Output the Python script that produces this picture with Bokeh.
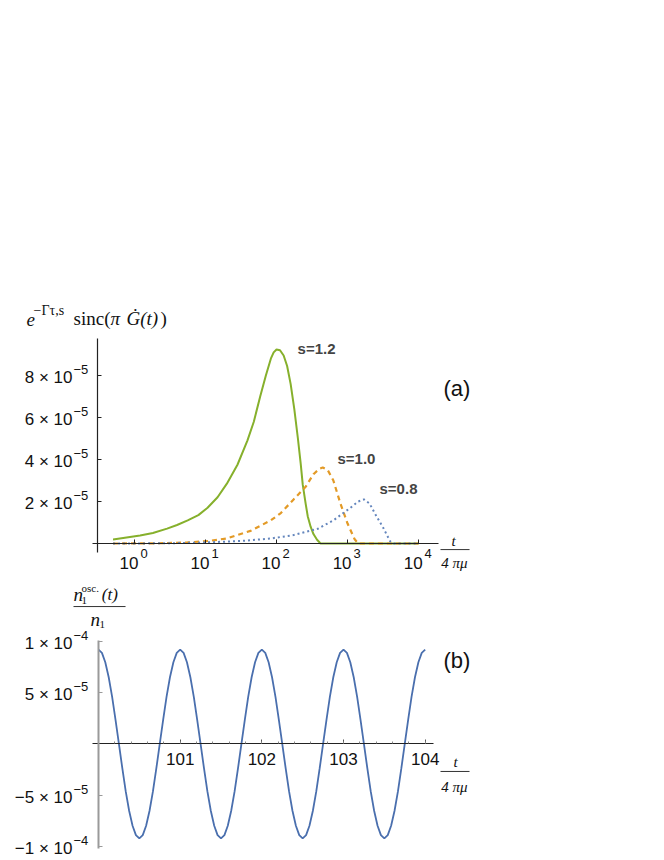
from bokeh.plotting import figure
from bokeh.layouts import column
from bokeh.models import Range1d, FixedTicker, Label, Arrow, LinearAxis, LogAxis, SingleIntervalTicker
from bokeh.core.properties import value
from bokeh.embed import file_html
from bokeh.resources import INLINE

# ---------------- data: panel (a) ----------------
t_s12 = [0.50, 1.20, 1.82, 2.88, 3.98, 5.62, 7.94, 10.7, 14.8, 20.0, 28.2, 38.9, 47.9, 58.9, 70.8,
         83.2, 91.2, 100, 112, 126, 141, 158, 178, 200, 219, 234, 257, 275, 302, 331, 372, 417, 10000]
y_s12 = [0.19, 0.38, 0.5, 0.71, 0.88, 1.1, 1.35, 1.7, 2.2, 2.85, 3.75, 4.9, 5.8, 7.0, 8.0,
         8.8, 9.1, 9.24, 9.2, 8.95, 8.45, 7.6, 6.4, 5.0, 3.8, 2.8, 1.9, 1.3, 0.8, 0.45, 0.18, 0.0, 0.0]

t_s10 = [0.5, 2.0, 5.6, 11, 20, 43, 83, 115, 174, 257, 331, 398, 447, 525, 631, 794, 1000, 1259, 1413, 10000]
y_s10 = [0.0, 0.01, 0.05, 0.12, 0.24, 0.6, 1.1, 1.45, 2.1, 2.7, 3.3, 3.55, 3.62, 3.5, 3.0, 1.9, 0.95, 0.2, 0.0, 0.0]

t_s08 = [0.5, 3.2, 10, 32, 83, 174, 380, 631, 1096, 1413, 1700, 2042, 2455, 3162, 3981, 4467, 10000]
y_s08 = [0.0, 0.01, 0.05, 0.12, 0.24, 0.4, 0.7, 1.1, 1.7, 2.0, 2.1, 1.9, 1.4, 0.76, 0.1, 0.0, 0.0]

scale_a = 1e-5
xticks_a = [1, 10, 100, 1000, 10000]
xbase_a = ["10", "10", "10", "10", "10"]
xexp_a = ["0", "1", "2", "3", "4"]
yticks_a = [2e-5, 4e-5, 6e-5, 8e-5]
ybase_a = ["2 × 10", "4 × 10", "6 × 10", "8 × 10"]
yexp_a = ["−5", "−5", "−5", "−5"]

# ---------------- data: panel (b) ----------------
t_b = [100.0, 100.042, 100.083, 100.125, 100.167, 100.208, 100.25, 100.292, 100.333, 100.375, 100.417, 100.458,
       100.5, 100.542, 100.583, 100.625, 100.667, 100.708, 100.75, 100.792, 100.833, 100.875, 100.917, 100.958,
       101.0, 101.042, 101.083, 101.125, 101.167, 101.208, 101.25, 101.292, 101.333, 101.375, 101.417, 101.458,
       101.5, 101.542, 101.583, 101.625, 101.667, 101.708, 101.75, 101.792, 101.833, 101.875, 101.917, 101.958,
       102.0, 102.042, 102.083, 102.125, 102.167, 102.208, 102.25, 102.292, 102.333, 102.375, 102.417, 102.458,
       102.5, 102.542, 102.583, 102.625, 102.667, 102.708, 102.75, 102.792, 102.833, 102.875, 102.917, 102.958,
       103.0, 103.042, 103.083, 103.125, 103.167, 103.208, 103.25, 103.292, 103.333, 103.375, 103.417, 103.458,
       103.5, 103.542, 103.583, 103.625, 103.667, 103.708, 103.75, 103.792, 103.833, 103.875, 103.917, 103.958,
       104.0]
n_b = [0.92, 0.889, 0.797, 0.651, 0.46, 0.238, 0.0, -0.238, -0.46, -0.651, -0.797, -0.889,
       -0.92, -0.889, -0.797, -0.651, -0.46, -0.238, 0.0, 0.238, 0.46, 0.651, 0.797, 0.889,
       0.92, 0.889, 0.797, 0.651, 0.46, 0.238, 0.0, -0.238, -0.46, -0.651, -0.797, -0.889,
       -0.92, -0.889, -0.797, -0.651, -0.46, -0.238, 0.0, 0.238, 0.46, 0.651, 0.797, 0.889,
       0.92, 0.889, 0.797, 0.651, 0.46, 0.238, 0.0, -0.238, -0.46, -0.651, -0.797, -0.889,
       -0.92, -0.889, -0.797, -0.651, -0.46, -0.238, 0.0, 0.238, 0.46, 0.651, 0.797, 0.889,
       0.92, 0.889, 0.797, 0.651, 0.46, 0.238, 0.0, -0.238, -0.46, -0.651, -0.797, -0.889,
       -0.92, -0.889, -0.797, -0.651, -0.46, -0.238, 0.0, 0.238, 0.46, 0.651, 0.797, 0.889,
       0.92]
scale_b = 1e-4
xticks_b = [101, 102, 103, 104]
yticks_b = [-1e-4, -5e-5, 5e-5, 1e-4]
ybase_b = ["−1 × 10", "−5 × 10", "5 × 10", "1 × 10"]
yexp_b = ["−4", "−5", "−5", "−4"]

SANS = "Liberation Sans"
SERIF = "Liberation Serif"
W = 560

# ================= panel (a) =================
X0_A = 10 ** -0.52  # left end of the x range (y axis position)
pa = figure(width=W, height=575, x_axis_type="log",
            x_axis_location=None, y_axis_location=None,
            x_range=Range1d(10 ** -1.8854, 10 ** 5.9975), y_range=Range1d(-1.5238e-5, 25.857e-5),
            output_backend="svg", toolbar_location=None,
            min_border_left=0, min_border_right=0, min_border_top=0, min_border_bottom=0)
pa.outline_line_color = None
pa.grid.visible = False

pa.line(t_s12, [v * scale_a for v in y_s12], line_color="#86b02c", line_width=2)
pa.line(t_s10, [v * scale_a for v in y_s10], line_color="#e39a26", line_width=2.2, line_dash="5 4")
pa.line(t_s08, [v * scale_a for v in y_s08], line_color="#6486bd", line_width=2, line_dash="2 3")

xa = LogAxis(fixed_location=0, bounds=(10 ** -0.59, 10 ** 4.28), ticker=FixedTicker(ticks=xticks_a),
             major_label_overrides={t: "" for t in xticks_a})
ya = LinearAxis(fixed_location=X0_A, bounds=(-0.45e-5, 9.76e-5), ticker=FixedTicker(ticks=yticks_a),
                major_label_overrides={t: "" for t in yticks_a})
for ax in (xa, ya):
    ax.axis_line_color = "#222222"
    ax.axis_line_width = 1.2
    ax.major_tick_line_color = "#222222"
    ax.major_tick_in = 4
    ax.major_tick_out = 0
    ax.minor_tick_line_color = None
pa.add_layout(xa, "below")
pa.add_layout(ya, "left")

TXT = dict(text_font=value(SANS), text_color="#111111", text_baseline="middle")
pa.text(x=xticks_a, y=[0] * len(xticks_a), text=xbase_a, text_align="right", x_offset=4, y_offset=19,
        text_font_size="17px", **TXT)
pa.text(x=xticks_a, y=[0] * len(xticks_a), text=xexp_a, text_align="left", x_offset=6, y_offset=10,
        text_font_size="13px", **TXT)
pa.text(x=[X0_A] * len(yticks_a), y=yticks_a, text=ybase_a, text_align="right", x_offset=-25, y_offset=2,
        text_font_size="17px", **TXT)
pa.text(x=[X0_A] * len(yticks_a), y=yticks_a, text=yexp_a, text_align="left", x_offset=-24, y_offset=-6,
        text_font_size="13px", **TXT)


def lab(p, x, y, text, size, font=SANS, style="normal", color="#111111", align="left"):
    p.add_layout(Label(x=x, y=y, text=text, text_font=font, text_font_size=size,
                       text_font_style=style, text_color=color, text_align=align,
                       text_baseline="middle"))


lab(pa, 198, 9.29e-5, "s=1.2", "15px", style="bold", color="#444444")
lab(pa, 722, 4.05e-5, "s=1.0", "15px", style="bold", color="#444444")
lab(pa, 2818, 2.62e-5, "s=0.8", "15px", style="bold", color="#444444")
lab(pa, 22440, 7.38e-5, "(a)", "22px")

# y-axis title: e^{-Γτ,s} sinc(π Ġ(t))
lab(pa, 0.0303, 10.66e-5, "e", "19px", font=SERIF, style="italic")
lab(pa, 0.0380, 11.08e-5, "−Γτ,s", "14px", font=SERIF)
lab(pa, 0.139, 10.71e-5, "sinc(", "19px", font=SERIF)
lab(pa, 0.461, 10.71e-5, "π", "19px", font=SERIF, style="italic")
lab(pa, 0.774, 10.71e-5, "Ġ(t)", "19px", font=SERIF, style="italic")
lab(pa, 2.33, 10.71e-5, ")", "19px", font=SERIF)

# x-axis title fraction t / (4 πμ)
lab(pa, 31000, 0.1e-5, "t", "15px", font=SERIF, style="italic", align="center")
pa.add_layout(Arrow(end=None, x_start=20330, y_start=-0.29e-5, x_end=52120, y_end=-0.29e-5,
                    line_color="#333333", line_width=1))
lab(pa, 32000, -0.95e-5, "4 πμ", "15px", font=SERIF, style="italic", align="center")

# ================= panel (b) =================
pb = figure(width=W, height=283, x_range=Range1d(98.800, 105.657), y_range=Range1d(-1.1171e-4, 1.6439e-4),
            x_axis_location=None, y_axis_location=None,
            output_backend="svg", toolbar_location=None,
            min_border_left=0, min_border_right=0, min_border_top=0, min_border_bottom=0)
pb.outline_line_color = None
pb.grid.visible = False

pb.line(t_b, [v * scale_b for v in n_b], line_color="#4a6fae", line_width=1.8)

yb = LinearAxis(fixed_location=100, bounds=(-1.02e-4, 1.01e-4), ticker=FixedTicker(ticks=yticks_b),
                major_label_overrides={t: "" for t in yticks_b})
yb.axis_line_color = "#9a9a9a"
yb.axis_line_width = 2
yb.major_tick_line_color = "#9a9a9a"
yb.major_tick_in = 4
yb.major_tick_out = 0
yb.minor_tick_line_color = None
pb.add_layout(yb, "left")

xb = LinearAxis(fixed_location=0, bounds=(99.93, 104.1),
                ticker=SingleIntervalTicker(interval=1, num_minor_ticks=5),
                major_label_overrides={100: ""})
xb.axis_line_color = "#222222"
xb.axis_line_width = 1.2
xb.major_tick_line_color = "#555555"
xb.minor_tick_line_color = "#888888"
xb.major_tick_in = 4
xb.major_tick_out = 0
xb.minor_tick_in = 2
xb.minor_tick_out = 0
xb.major_label_text_font = SANS
xb.major_label_text_font_size = "17px"
xb.major_label_text_color = "#111111"
xb.major_label_standoff = 9
pb.add_layout(xb, "below")

pb.text(x=[100] * len(yticks_b), y=yticks_b, text=ybase_b, text_align="right", x_offset=-26, y_offset=2,
        text_font_size="17px", **TXT)
pb.text(x=[100] * len(yticks_b), y=yticks_b, text=yexp_b, text_align="left", x_offset=-25, y_offset=-6,
        text_font_size="13px", **TXT)

lab(pb, 104.224, 0.815e-4, "(b)", "22px")

# y-axis title: n1^osc.(t) / n1
lab(pb, 99.694, 1.46e-4, "n", "19px", font=SERIF, style="italic")
lab(pb, 99.792, 1.52e-4, "osc.", "11px", font=SERIF)
lab(pb, 99.792, 1.40e-4, "1", "11px", font=SERIF)
lab(pb, 100.040, 1.46e-4, "(t)", "17px", font=SERIF, style="italic")
pb.add_layout(Arrow(end=None, x_start=99.694, y_start=1.341e-4, x_end=100.331, y_end=1.341e-4,
                    line_color="#333333", line_width=1))
lab(pb, 99.902, 1.215e-4, "n", "19px", font=SERIF, style="italic")
lab(pb, 100.012, 1.17e-4, "1", "11px", font=SERIF)

# x-axis title fraction t / (4 πμ)
lab(pb, 104.371, -0.18e-4, "t", "15px", font=SERIF, style="italic", align="center")
pb.add_layout(Arrow(end=None, x_start=104.188, y_start=-0.268e-4, x_end=104.543, y_end=-0.268e-4,
                    line_color="#333333", line_width=1))
lab(pb, 104.359, -0.415e-4, "4 πμ", "15px", font=SERIF, style="italic", align="center")

layout = column(pa, pb)
open("out.html", "w").write(file_html(layout, INLINE))
